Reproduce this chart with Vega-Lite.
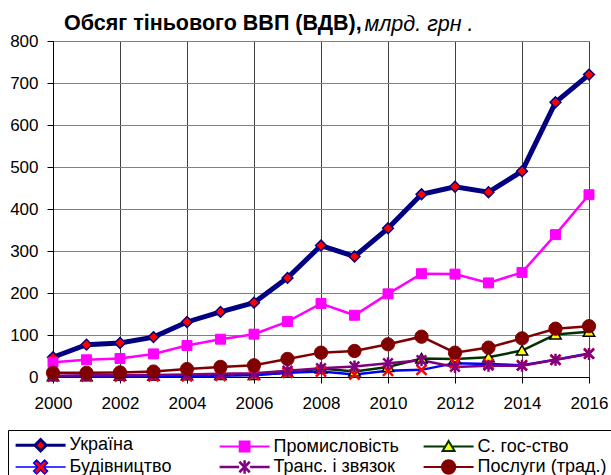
{
  "$schema": "https://vega.github.io/schema/vega-lite/v6.json",
  "width": 536,
  "height": 336,
  "autosize": {"type": "none"},
  "padding": {"left": 53, "top": 41, "right": 22, "bottom": 98},
  "background": "white",
  "config": {"font": "Liberation Sans", "view": {"stroke": "#808080", "strokeWidth": 1}},
  "title": {"text": "Обсяг тіньового ВВП (ВДВ),", "anchor": "start", "frame": "group", "fontSize": 21.5, "fontWeight": "bold", "color": "black", "dx": 11, "offset": 0, "dy": 38, "baseline": "alphabetic"},
  "data": {"values": [
    {"year": 2000, "series": "Україна", "value": 47},
    {"year": 2001, "series": "Україна", "value": 77},
    {"year": 2002, "series": "Україна", "value": 81},
    {"year": 2003, "series": "Україна", "value": 95},
    {"year": 2004, "series": "Україна", "value": 131},
    {"year": 2005, "series": "Україна", "value": 155},
    {"year": 2006, "series": "Україна", "value": 177},
    {"year": 2007, "series": "Україна", "value": 236},
    {"year": 2008, "series": "Україна", "value": 313},
    {"year": 2009, "series": "Україна", "value": 287},
    {"year": 2010, "series": "Україна", "value": 354},
    {"year": 2011, "series": "Україна", "value": 435},
    {"year": 2012, "series": "Україна", "value": 453},
    {"year": 2013, "series": "Україна", "value": 440},
    {"year": 2014, "series": "Україна", "value": 490},
    {"year": 2015, "series": "Україна", "value": 654},
    {"year": 2016, "series": "Україна", "value": 720},
    {"year": 2000, "series": "Промисловість", "value": 35},
    {"year": 2001, "series": "Промисловість", "value": 41},
    {"year": 2002, "series": "Промисловість", "value": 44},
    {"year": 2003, "series": "Промисловість", "value": 55},
    {"year": 2004, "series": "Промисловість", "value": 75},
    {"year": 2005, "series": "Промисловість", "value": 90},
    {"year": 2006, "series": "Промисловість", "value": 102},
    {"year": 2007, "series": "Промисловість", "value": 132},
    {"year": 2008, "series": "Промисловість", "value": 175},
    {"year": 2009, "series": "Промисловість", "value": 147},
    {"year": 2010, "series": "Промисловість", "value": 198},
    {"year": 2011, "series": "Промисловість", "value": 246},
    {"year": 2012, "series": "Промисловість", "value": 245},
    {"year": 2013, "series": "Промисловість", "value": 224},
    {"year": 2014, "series": "Промисловість", "value": 249},
    {"year": 2015, "series": "Промисловість", "value": 339},
    {"year": 2016, "series": "Промисловість", "value": 434},
    {"year": 2000, "series": "С. гос-ство", "value": 2},
    {"year": 2001, "series": "С. гос-ство", "value": 2},
    {"year": 2002, "series": "С. гос-ство", "value": 3},
    {"year": 2003, "series": "С. гос-ство", "value": 3},
    {"year": 2004, "series": "С. гос-ство", "value": 4},
    {"year": 2005, "series": "С. гос-ство", "value": 5},
    {"year": 2006, "series": "С. гос-ство", "value": 5},
    {"year": 2007, "series": "С. гос-ство", "value": 10},
    {"year": 2008, "series": "С. гос-ство", "value": 20},
    {"year": 2009, "series": "С. гос-ство", "value": 13},
    {"year": 2010, "series": "С. гос-ство", "value": 24},
    {"year": 2011, "series": "С. гос-ство", "value": 44},
    {"year": 2012, "series": "С. гос-ство", "value": 43},
    {"year": 2013, "series": "С. гос-ство", "value": 47},
    {"year": 2014, "series": "С. гос-ство", "value": 63},
    {"year": 2015, "series": "С. гос-ство", "value": 101},
    {"year": 2016, "series": "С. гос-ство", "value": 108},
    {"year": 2000, "series": "Будівництво", "value": 1},
    {"year": 2001, "series": "Будівництво", "value": 1},
    {"year": 2002, "series": "Будівництво", "value": 1},
    {"year": 2003, "series": "Будівництво", "value": 2},
    {"year": 2004, "series": "Будівництво", "value": 2},
    {"year": 2005, "series": "Будівництво", "value": 3},
    {"year": 2006, "series": "Будівництво", "value": 5},
    {"year": 2007, "series": "Будівництво", "value": 10},
    {"year": 2008, "series": "Будівництво", "value": 13},
    {"year": 2009, "series": "Будівництво", "value": 6},
    {"year": 2010, "series": "Будівництво", "value": 15},
    {"year": 2011, "series": "Будівництво", "value": 17},
    {"year": 2012, "series": "Будівництво", "value": 33},
    {"year": 2013, "series": "Будівництво", "value": 31},
    {"year": 2014, "series": "Будівництво", "value": 28},
    {"year": 2015, "series": "Будівництво", "value": 41},
    {"year": 2016, "series": "Будівництво", "value": 56},
    {"year": 2000, "series": "Транс. і звязок", "value": 3},
    {"year": 2001, "series": "Транс. і звязок", "value": 4},
    {"year": 2002, "series": "Транс. і звязок", "value": 4},
    {"year": 2003, "series": "Транс. і звязок", "value": 5},
    {"year": 2004, "series": "Транс. і звязок", "value": 6},
    {"year": 2005, "series": "Транс. і звязок", "value": 8},
    {"year": 2006, "series": "Транс. і звязок", "value": 9},
    {"year": 2007, "series": "Транс. і звязок", "value": 15},
    {"year": 2008, "series": "Транс. і звязок", "value": 21},
    {"year": 2009, "series": "Транс. і звязок", "value": 25},
    {"year": 2010, "series": "Транс. і звязок", "value": 33},
    {"year": 2011, "series": "Транс. і звязок", "value": 40},
    {"year": 2012, "series": "Транс. і звязок", "value": 24},
    {"year": 2013, "series": "Транс. і звязок", "value": 27},
    {"year": 2014, "series": "Транс. і звязок", "value": 27},
    {"year": 2015, "series": "Транс. і звязок", "value": 41},
    {"year": 2016, "series": "Транс. і звязок", "value": 55},
    {"year": 2000, "series": "Послуги (трад.)", "value": 10},
    {"year": 2001, "series": "Послуги (трад.)", "value": 10},
    {"year": 2002, "series": "Послуги (трад.)", "value": 11},
    {"year": 2003, "series": "Послуги (трад.)", "value": 13},
    {"year": 2004, "series": "Послуги (трад.)", "value": 19},
    {"year": 2005, "series": "Послуги (трад.)", "value": 24},
    {"year": 2006, "series": "Послуги (трад.)", "value": 28},
    {"year": 2007, "series": "Послуги (трад.)", "value": 43},
    {"year": 2008, "series": "Послуги (трад.)", "value": 58},
    {"year": 2009, "series": "Послуги (трад.)", "value": 62},
    {"year": 2010, "series": "Послуги (трад.)", "value": 78},
    {"year": 2011, "series": "Послуги (трад.)", "value": 96},
    {"year": 2012, "series": "Послуги (трад.)", "value": 58},
    {"year": 2013, "series": "Послуги (трад.)", "value": 70},
    {"year": 2014, "series": "Послуги (трад.)", "value": 92},
    {"year": 2015, "series": "Послуги (трад.)", "value": 115},
    {"year": 2016, "series": "Послуги (трад.)", "value": 121}
  ]},
  "encoding": {
    "x": {"field": "year", "type": "quantitative", "scale": {"domain": [2000, 2016], "nice": false, "zero": false},
      "axis": {"title": null, "values": [2000, 2002, 2004, 2006, 2008, 2010, 2012, 2014, 2016], "format": "d", "labelFontSize": 17, "labelColor": "black", "labelPadding": 12, "tickSize": 6, "tickColor": "black", "domainColor": "black", "gridColor": "#404040", "gridOpacity": 1, "labelFlush": false, "labelOverlap": false}},
    "y": {"field": "value", "type": "quantitative", "scale": {"domain": [0, 800], "nice": false},
      "axis": {"title": "млрд. грн .", "titleX": 311, "titleY": -11, "titleAngle": 0, "titleAlign": "left", "titleBaseline": "alphabetic", "titleFontStyle": "italic", "titleFontWeight": "normal", "titleFontSize": 21.5, "titleColor": "black", "values": [0, 100, 200, 300, 400, 500, 600, 700, 800], "labelFontSize": 17, "labelColor": "black", "labelPadding": 9, "tickSize": 6, "tickColor": "black", "domainColor": "black", "gridColor": "#808080", "gridOpacity": 1}}
  },
  "layer": [
    {
      "transform": [{"filter": "datum.series === 'Україна'"}],
      "mark": {"type": "line", "color": "#000080", "strokeWidth": 5},
      "encoding": {}
    },
    {
      "transform": [{"filter": "datum.series !== 'Україна'"}],
      "mark": {"type": "line", "strokeWidth": 2.5},
      "encoding": {
        "color": {"field": "series", "type": "nominal", "legend": null,
          "scale": {"domain": ["Промисловість", "С. гос-ство", "Будівництво", "Транс. і звязок", "Послуги (трад.)"],
            "range": ["#FF00FF", "#003300", "#0000FF", "#800080", "#800000"]}}
      }
    },
    {
      "mark": {"type": "point", "filled": true, "size": 144, "opacity": 1},
      "encoding": {
        "shape": {"field": "series", "type": "nominal", "legend": null,
          "scale": {"domain": ["Україна", "Промисловість", "С. гос-ство", "Будівництво", "Транс. і звязок", "Послуги (трад.)"],
            "range": ["M0,-0.9L0.9,0L0,0.9L-0.9,0Z", "M-0.83,-0.83L0.83,-0.83L0.83,0.83L-0.83,0.83Z", "M0,-0.85L0.95,0.75L-0.95,0.75Z", "M-0.85,-0.85L0.85,0.85M-0.85,0.85L0.85,-0.85", "M-0.8,-0.8L0.8,0.8M-0.8,0.8L0.8,-0.8M0,-1L0,1", "M1.1,0A1.1,1.1,0,1,1,-1.1,0A1.1,1.1,0,1,1,1.1,0Z"]}},
        "fill": {"field": "series", "type": "nominal", "legend": null,
          "scale": {"domain": ["Україна", "Промисловість", "С. гос-ство", "Будівництво", "Транс. і звязок", "Послуги (трад.)"],
            "range": ["#FF0000", "#FF00FF", "#FFFF00", "transparent", "transparent", "#800000"]}},
        "stroke": {"field": "series", "type": "nominal", "legend": null,
          "scale": {"domain": ["Україна", "Промисловість", "С. гос-ство", "Будівництво", "Транс. і звязок", "Послуги (трад.)"],
            "range": ["#000080", "#FF00FF", "#000000", "#FF0000", "#800080", "#800000"]}},
        "strokeWidth": {"field": "series", "type": "nominal", "legend": null,
          "scale": {"type": "ordinal", "domain": ["Україна", "Промисловість", "С. гос-ство", "Будівництво", "Транс. і звязок", "Послуги (трад.)"],
            "range": [1.5, 1, 1.5, 2.5, 2.5, 1]}}
      }
    },
    {
      "transform": [{"filter": "datum.value < -1"}],
      "mark": {"type": "point", "filled": true, "opacity": 1, "size": 100},
      "encoding": {
        "shape": {"field": "series", "type": "nominal",
          "scale": {"domain": ["Україна", "Промисловість", "С. гос-ство", "Будівництво", "Транс. і звязок", "Послуги (трад.)"],
            "range": [
              "M-5,0L-1.12,0M1.12,0L5,0M0,-1.12L1.12,0L0,1.12L-1.12,0Z",
              "M-5,0L5,0M-0.98,-0.98L0.98,-0.98L0.98,0.98L-0.98,0.98Z",
              "M-5,0L-0.7,0M0.7,0L5,0M0,-1.12L1.2,0.9L-1.2,0.9Z",
              "M-5,0L-0.59,0M0.59,0L5,0M-0.8,1.39L0,0.59L0.8,1.39L1.39,0.8L0.59,0L1.39,-0.8L0.8,-1.39L0,-0.59L-0.8,-1.39L-1.39,-0.8L-0.59,0L-1.39,0.8Z",
              "M-5,0L-1.1,0M1.1,0L5,0M-1.05,-1.05L1.05,1.05M-1.05,1.05L1.05,-1.05M0,-1.33L0,1.33",
              "M-5,0L5,0M1.33,0A1.33,1.33,0,1,1,-1.33,0A1.33,1.33,0,1,1,1.33,0Z"
            ]},
          "legend": {"title": null, "orient": "none", "legendX": -45, "legendY": 389, "direction": "horizontal", "columns": 3, "gridAlign": "all", "columnPadding": 15, "rowPadding": -2, "symbolSize": 100, "symbolOffset": 17.6, "labelOffset": 20, "labelFontSize": 18, "labelColor": "black", "labelLimit": 300, "padding": 6, "strokeColor": "#000000", "fillColor": "white"}},
        "fill": {"field": "series", "type": "nominal",
          "scale": {"domain": ["Україна", "Промисловість", "С. гос-ство", "Будівництво", "Транс. і звязок", "Послуги (трад.)"],
            "range": ["#FF0000", "#FF00FF", "#FFFF00", "#FF0000", "#800080", "#800000"]}},
        "stroke": {"field": "series", "type": "nominal",
          "scale": {"domain": ["Україна", "Промисловість", "С. гос-ство", "Будівництво", "Транс. і звязок", "Послуги (трад.)"],
            "range": ["#000080", "#FF00FF", "#003300", "#0000FF", "#800080", "#800000"]}},
        "strokeWidth": {"field": "series", "type": "nominal",
          "scale": {"type": "ordinal", "domain": ["Україна", "Промисловість", "С. гос-ство", "Будівництво", "Транс. і звязок", "Послуги (трад.)"],
            "range": [3, 2, 2, 1.5, 2.5, 2]}}
      }
    }
  ],
  "resolve": {"scale": {"shape": "independent", "fill": "independent", "stroke": "independent", "strokeWidth": "independent"}}
}
